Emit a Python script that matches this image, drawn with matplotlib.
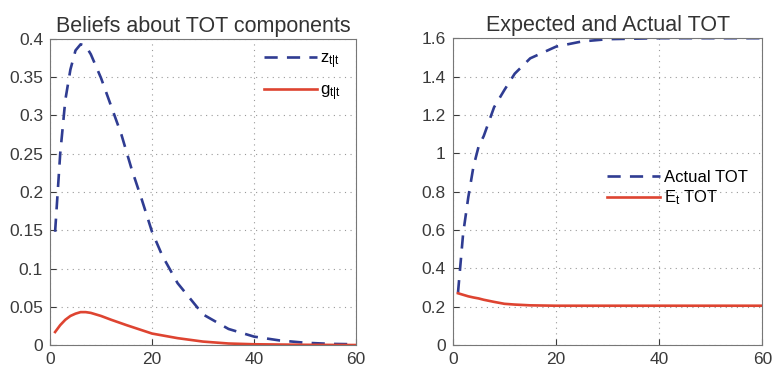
import numpy as np
import matplotlib
matplotlib.use("Agg")
import matplotlib.pyplot as plt

plt.rcParams["font.family"] = ["Liberation Sans", "DejaVu Sans"]
plt.rcParams["mathtext.fontset"] = "custom"
plt.rcParams["mathtext.rm"] = "Liberation Sans"
plt.rcParams["mathtext.it"] = "Liberation Sans"

# left panel: beliefs about TOT components
t_left = [1, 2, 3, 4, 5, 6, 7, 8, 10, 12, 14, 16, 18, 20, 22, 25, 30, 35, 40, 45, 50, 55, 60]
z_tt = [0.148, 0.25, 0.32, 0.36, 0.385, 0.393, 0.391, 0.38, 0.349, 0.312, 0.275, 0.23, 0.19,
        0.148, 0.117, 0.081, 0.040, 0.021, 0.011, 0.006, 0.003, 0.0015, 0.001]
t_g = [1, 2, 3, 4, 5, 6, 7, 8, 10, 12, 15, 20, 25, 30, 35, 40, 50, 60]
g_tt = [0.017, 0.026, 0.033, 0.038, 0.041, 0.043, 0.043, 0.042, 0.038, 0.033, 0.026, 0.015,
        0.009, 0.0045, 0.002, 0.001, 0.0003, 0.0]

# right panel: expected and actual TOT
t_right = [1, 2, 3, 4, 5, 6, 8, 10, 12, 15, 20, 25, 30, 40, 50, 60]
actual_tot = [0.27, 0.58, 0.77, 0.93, 1.035, 1.09, 1.24, 1.33, 1.415, 1.495, 1.556, 1.583,
              1.595, 1.60, 1.60, 1.60]
expected_tot = [0.27, 0.262, 0.254, 0.248, 0.243, 0.236, 0.225, 0.215, 0.211, 0.207, 0.205,
                0.205, 0.205, 0.205, 0.205, 0.205]

BLUE = "#2f3c92"
RED = "#de4431"


def style(ax, ylim, yticks):
    ax.set_xlim(0, 60)
    ax.set_ylim(*ylim)
    ax.set_xticks([0, 20, 40, 60])
    ax.set_yticks(yticks)
    ax.set_yticklabels([f"{v:g}" for v in yticks])
    ax.grid(True, linestyle=(0, (1, 4)), color="#999999", linewidth=0.8)
    ax.tick_params(direction="in", labelsize=12.5, colors="#3a3a3a", length=4, pad=5)
    for s in ax.spines.values():
        s.set_color("#777777")
        s.set_linewidth(0.8)


fig = plt.figure(figsize=(7.74, 3.71), dpi=100)
ax1 = fig.add_axes([0.0646, 0.070, 0.3954, 0.825])
ax2 = fig.add_axes([0.585, 0.070, 0.400, 0.827])

ax1.plot(t_left, z_tt, "--", color=BLUE, lw=1.9, dashes=(5, 3.5), label=r"z$_{\mathregular{t|t}}$")
ax1.plot(t_g, g_tt, "-", color=RED, lw=1.9, label=r"g$_{\mathregular{t|t}}$")
style(ax1, (0, 0.4), [0, 0.05, 0.1, 0.15, 0.2, 0.25, 0.3, 0.35, 0.4])
ax1.set_title("Beliefs about TOT components", fontsize=15.5, color="#333333", pad=5)
ax1.legend(loc="upper right", frameon=False, fontsize=12, handlelength=3.2,
           handletextpad=0.2, labelspacing=0.75, bbox_to_anchor=(1.0, 1.01))

ax2.plot(t_right, actual_tot, "--", color=BLUE, lw=1.9, dashes=(5, 3.5), label="Actual TOT")
ax2.plot(t_right, expected_tot, "-", color=RED, lw=1.9, label=r"E$_{\mathregular{t}}$ TOT")
style(ax2, (0, 1.6), [0, 0.2, 0.4, 0.6, 0.8, 1, 1.2, 1.4, 1.6])
ax2.set_title("Expected and Actual TOT", fontsize=15.5, color="#333333", pad=5)
ax2.legend(loc="center right", frameon=False, fontsize=12, handlelength=3.2,
           handletextpad=0.2, labelspacing=0.2, bbox_to_anchor=(1.0, 0.51))

fig.savefig("out.png", dpi=100)
